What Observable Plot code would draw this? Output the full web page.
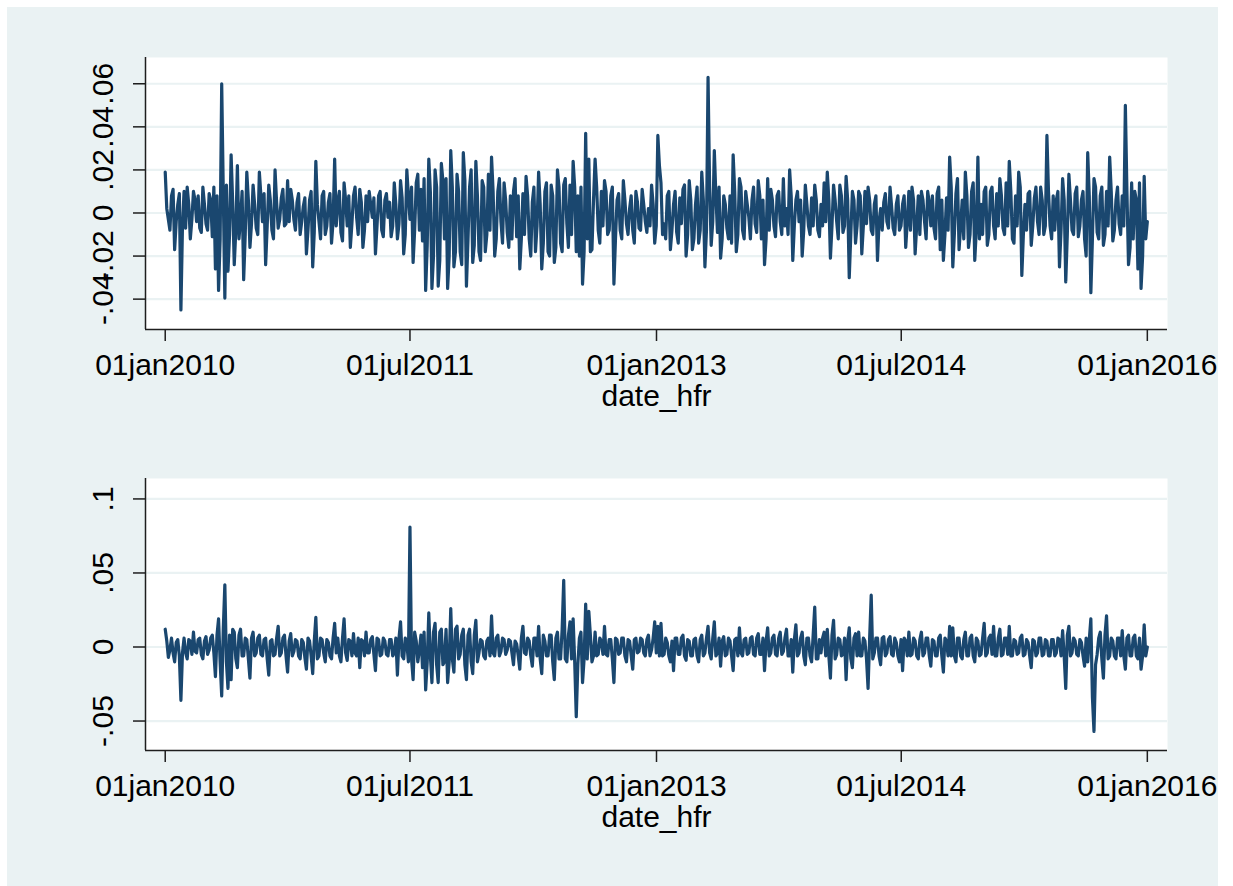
<!DOCTYPE html>
<html>
<head>
<meta charset="utf-8">
<script src="https://cdn.jsdelivr.net/npm/d3@7"></script>
<script src="https://cdn.jsdelivr.net/npm/@observablehq/plot@0.6"></script>
<style>
html, body { margin: 0; padding: 0; background: #ffffff; }
#page { position: relative; width: 1233px; height: 886px; overflow: hidden; background: #ffffff; }
#bg { position: absolute; left: 7px; top: 7px; width: 1211px; height: 879px; background: #EAF2F3; }
.panel { position: absolute; left: 0; }
</style>
</head>
<body>
<div id="page">
  <div id="bg"></div>
  <div id="top" class="panel" style="top:0px"></div>
  <div id="bottom" class="panel" style="top:421px"></div>
</div>
<script>
// ---- data: readings every week starting 01jan2010, plus mid-week readings ----
const startDate = "2010-01-01";
const stepHours = 168;      // one week between weekly readings
const midOffsetHours = 84;  // mid-week readings

const topValues = [
  0.019,-0.003,0.008,-0.017,0.004,-0.045,0.010,0.012,-0.012,0.010,
  -0.004,-0.007,0.012,-0.005,0.009,-0.011,-0.026,-0.036,0.060,-0.0395,
  -0.027,0.027,-0.024,0.022,-0.003,-0.031,0.019,-0.016,0.013,-0.007,
  0.019,-0.004,-0.024,0.013,-0.008,0.020,-0.007,0.007,-0.006,0.015,
  0.011,-0.003,0.005,-0.010,0.003,-0.019,0.006,-0.025,0.024,-0.004,
  0.008,-0.010,0.005,-0.014,0.025,0.005,-0.009,0.014,-0.006,-0.016,
  0.008,-0.002,0.011,-0.016,0.008,0.010,-0.002,-0.019,0.008,-0.008,
  0.006,-0.002,-0.011,0.014,-0.012,0.015,-0.019,0.020,-0.003,-0.023,
  0.014,-0.008,-0.013,-0.036,0.025,-0.035,0.020,-0.034,0.023,-0.012,
  -0.035,0.029,-0.025,0.018,-0.018,0.028,-0.034,0.012,-0.023,0.024,
  -0.018,0.015,-0.018,0.018,0.026,-0.020,0.010,-0.004,0.014,-0.009,
  0.008,0.010,-0.011,-0.026,0.009,0.017,-0.012,0.005,-0.018,0.019,
  -0.026,0.010,-0.018,0.013,-0.023,0.020,-0.014,0.013,-0.005,0.013,
  0.024,-0.018,-0.020,-0.033,0.037,0.025,-0.017,0.025,-0.008,0.010,
  0.015,-0.010,0.008,-0.033,0.006,-0.008,0.015,-0.005,0.002,-0.008,
  0.010,-0.007,0.011,-0.004,0.002,0.013,-0.014,0.036,0.014,-0.005,
  0.008,-0.017,0.004,-0.009,0.007,0.011,-0.020,0.015,-0.017,0.004,
  -0.014,0.019,-0.025,0.063,-0.015,0.029,-0.009,-0.021,0.008,-0.007,
  0.008,0.027,-0.018,0.016,-0.008,0.010,-0.002,0.006,-0.005,0.015,
  -0.012,-0.024,0.016,0.011,-0.006,0.008,-0.004,0.016,0.002,0.020,
  -0.022,0.006,-0.004,-0.020,0.013,-0.006,0.007,0.013,-0.008,0.004,
  0.014,0.019,-0.021,0.013,-0.004,0.013,-0.009,0.017,-0.030,0.010,
  -0.014,0.010,-0.019,0.010,0.012,-0.008,0.004,-0.022,0.002,0.005,
  -0.004,0.012,-0.007,0.004,-0.008,0.004,-0.016,0.010,0.012,-0.019,
  0.008,0.010,-0.004,0.010,-0.006,-0.007,0.009,-0.017,-0.022,0.007,
  0.026,-0.025,0.009,-0.017,0.006,0.019,-0.016,0.010,-0.022,0.026,
  0.004,0.010,-0.015,0.010,-0.006,0.009,0.016,-0.007,0.014,0.024,
  -0.012,0.008,0.019,-0.029,0.004,0.009,-0.015,0.007,-0.004,0.012,
  -0.010,0.036,-0.006,0.008,0.006,-0.025,0.016,-0.032,0.018,-0.008,
  0.009,-0.011,0.006,-0.012,0.028,-0.037,0.016,-0.009,0.008,-0.015,
  0.010,0.026,-0.013,0.006,-0.005,0.008,0.050,-0.024,0.014,0.010,
  -0.026,-0.035,0.017,-0.004
];

const topMidValues = [
  0.002,-0.008,0.011,-0.004,0.009,-0.006,-0.007,0.004,-0.003,0.006,
  0.008,-0.009,0.004,-0.008,0.006,0.012,0.008,-0.012,0.010,0.013,
  -0.010,0.005,-0.008,-0.012,0.010,-0.010,0.006,-0.005,0.004,-0.010,
  0.008,0.009,-0.006,0.006,-0.012,0.005,-0.003,0.011,-0.005,-0.004,
  0.006,-0.008,0.009,-0.004,0.007,-0.008,0.010,-0.009,0.004,-0.012,
  0.010,-0.006,0.009,-0.004,-0.006,0.010,-0.013,0.006,0.008,-0.005,
  0.012,-0.010,0.005,-0.008,-0.004,0.004,0.007,-0.006,0.010,-0.011,
  0.009,0.005,-0.006,0.004,-0.005,0.007,-0.010,0.008,0.012,-0.008,
  0.018,0.011,0.016,-0.015,0.010,-0.020,0.012,-0.022,0.015,0.016,
  -0.020,0.012,-0.018,0.010,-0.024,0.015,-0.012,0.020,-0.015,0.008,
  -0.022,0.012,-0.010,-0.008,0.010,-0.012,0.016,-0.014,0.006,-0.016,
  -0.012,0.016,0.008,-0.012,-0.010,0.008,-0.020,0.012,-0.006,0.004,
  -0.014,0.014,-0.020,0.008,-0.016,0.012,-0.018,0.016,-0.016,-0.010,
  0.012,0.008,0.012,-0.018,-0.012,-0.018,0.006,0.012,-0.014,-0.006,
  0.010,-0.008,0.012,-0.012,0.009,-0.012,0.006,-0.010,0.008,-0.014,
  0.005,-0.008,0.004,-0.009,-0.006,0.004,-0.006,0.022,-0.010,-0.012,
  0.010,-0.008,0.010,-0.014,-0.005,0.013,-0.010,0.006,-0.012,0.012,
  -0.008,0.006,-0.008,0.012,-0.004,0.008,0.012,-0.012,0.004,-0.012,
  -0.014,0.010,-0.010,0.012,-0.012,0.004,-0.012,0.012,-0.009,0.008,
  0.006,-0.012,-0.008,0.006,-0.011,0.010,-0.010,-0.006,-0.010,0.008,
  -0.006,0.010,0.006,-0.008,0.004,-0.010,-0.006,0.006,-0.011,-0.006,
  -0.004,0.006,-0.006,0.006,-0.012,0.008,-0.006,0.006,-0.010,0.006,
  -0.006,0.008,-0.006,-0.005,0.006,-0.010,0.008,-0.004,-0.008,0.009,
  -0.007,0.003,-0.010,0.008,-0.006,0.008,-0.004,-0.008,0.006,-0.006,
  -0.010,0.006,-0.012,0.005,0.008,-0.012,0.012,0.006,-0.010,-0.008,
  0.012,-0.010,0.016,-0.006,-0.012,0.008,-0.010,0.014,-0.008,-0.012,
  -0.010,0.012,-0.010,0.012,-0.012,-0.006,0.008,-0.010,-0.006,0.010,
  -0.014,-0.006,0.012,-0.010,-0.008,0.010,-0.006,0.012,-0.010,0.006,
  -0.006,0.010,-0.012,-0.008,0.010,-0.008,0.006,-0.010,0.006,-0.010,
  0.012,-0.006,0.010,-0.020,0.008,-0.012,0.012,-0.012,0.012,-0.010,
  -0.006,0.010,-0.008,0.012,-0.010,-0.006,0.010,-0.016,-0.012,0.006,
  0.014,-0.020,-0.012
];

const bottomValues = [
  0.012,-0.007,0.006,-0.010,0.005,-0.036,0.006,-0.008,0.004,0.010,
  -0.004,0.006,-0.008,0.007,-0.002,0.008,-0.020,0.019,-0.033,0.042,
  -0.028,-0.022,0.010,-0.014,0.012,-0.006,0.005,-0.021,0.010,-0.004,
  0.008,-0.006,0.006,-0.019,0.005,-0.005,0.014,-0.004,0.008,-0.017,
  0.009,-0.003,0.004,-0.008,0.003,-0.015,0.004,-0.018,0.020,-0.006,
  0.005,-0.010,0.003,-0.008,0.016,0.006,-0.010,0.019,-0.009,0.004,
  0.009,-0.006,-0.014,0.004,0.010,-0.004,0.007,-0.016,0.005,-0.005,
  0.004,-0.006,0.005,-0.004,-0.019,0.017,-0.008,0.003,0.081,-0.022,
  0.004,-0.002,-0.014,-0.029,0.023,-0.024,0.016,-0.024,0.012,-0.010,
  -0.024,0.026,-0.017,0.014,-0.005,0.012,-0.022,0.012,-0.018,0.018,
  -0.004,0.004,-0.008,0.006,0.021,-0.006,0.008,-0.003,0.005,-0.002,
  0.004,-0.012,0.002,-0.015,0.014,-0.005,0.004,-0.013,0.006,0.014,
  -0.018,0.004,-0.006,0.008,-0.022,0.010,-0.008,0.045,-0.010,0.017,
  0.019,-0.047,0.006,-0.024,0.029,0.024,-0.010,0.010,-0.005,0.004,
  0.014,-0.006,0.005,-0.024,0.005,-0.004,0.006,-0.010,0.004,-0.015,
  0.006,-0.003,0.005,-0.006,0.008,-0.002,0.017,0.014,0.016,-0.005,
  0.003,-0.010,-0.016,0.006,-0.005,0.008,-0.009,0.004,-0.006,0.006,
  -0.010,0.008,-0.004,0.014,-0.008,0.017,-0.004,-0.013,0.007,-0.005,
  0.004,-0.016,0.006,0.013,-0.006,0.006,-0.004,0.007,-0.006,0.009,
  -0.005,-0.016,0.013,-0.004,0.008,-0.006,0.010,-0.003,0.012,-0.006,
  -0.017,0.015,-0.004,0.010,-0.012,0.006,-0.010,0.027,-0.008,-0.004,
  0.010,0.012,-0.021,0.018,-0.005,0.005,-0.005,-0.022,0.013,-0.014,
  0.009,0.010,-0.006,0.004,-0.028,0.035,-0.004,0.006,-0.012,0.007,
  -0.004,0.007,-0.006,0.003,-0.010,-0.016,0.004,0.010,-0.005,0.004,
  -0.008,0.010,-0.004,0.006,-0.013,0.004,-0.006,0.008,-0.017,0.004,
  0.014,0.013,-0.010,0.006,-0.008,0.010,-0.006,0.008,-0.010,0.004,
  -0.005,0.016,-0.004,0.008,0.014,-0.006,0.012,-0.005,0.006,0.014,
  -0.006,0.004,-0.004,0.008,-0.005,0.003,-0.014,0.004,-0.004,0.006,
  -0.005,0.004,-0.006,0.005,-0.004,0.005,0.011,-0.028,0.014,-0.004,
  0.004,-0.006,0.003,-0.013,-0.010,0.019,-0.057,-0.005,0.010,-0.021,
  0.021,-0.006,0.004,-0.008,0.006,0.011,-0.015,0.008,-0.006,0.008,
  -0.008,-0.015,0.015,0.000
];

const bottomMidValues = [
  0.004,-0.002,-0.004,0.003,-0.006,-0.004,-0.004,0.005,-0.005,-0.003,
  0.005,-0.005,0.004,-0.005,0.006,-0.004,0.008,-0.010,0.012,-0.010,
  0.008,0.012,-0.008,0.008,-0.006,0.006,-0.008,0.006,-0.006,0.006,
  -0.005,0.005,-0.008,0.004,-0.006,0.006,-0.006,0.006,-0.006,0.004,
  -0.006,0.005,-0.006,0.005,-0.007,0.006,-0.006,0.004,-0.008,0.006,
  -0.004,0.005,-0.006,0.006,-0.004,-0.006,0.006,-0.004,0.005,-0.006,
  -0.004,0.006,0.005,-0.006,-0.004,0.005,-0.005,0.006,-0.006,0.006,
  -0.005,0.005,-0.006,0.006,0.006,-0.006,0.006,-0.010,-0.008,0.010,
  -0.010,0.008,0.010,-0.010,-0.006,0.010,-0.012,0.010,-0.012,0.012,
  -0.010,-0.008,0.012,-0.008,0.008,-0.012,0.008,-0.010,0.008,-0.010,
  0.005,-0.006,0.004,-0.006,-0.004,0.006,-0.006,0.006,-0.005,0.005,
  -0.004,0.004,-0.006,0.006,-0.004,0.006,-0.006,0.006,-0.006,-0.008,
  0.008,-0.006,0.008,-0.010,0.006,-0.008,0.012,-0.008,0.008,-0.008,
  -0.010,-0.012,0.010,-0.008,-0.008,0.008,-0.006,-0.006,0.006,-0.005,
  -0.005,0.005,-0.008,0.006,-0.005,0.006,-0.006,0.005,-0.006,0.005,
  -0.004,0.006,-0.004,0.005,-0.006,0.006,-0.004,-0.006,-0.006,0.006,
  -0.006,0.004,0.006,-0.005,0.006,-0.006,0.005,-0.006,0.005,-0.006,
  0.005,-0.006,0.006,-0.004,0.006,-0.006,0.006,0.004,-0.006,0.006,
  -0.006,0.005,-0.006,-0.004,0.005,-0.005,0.006,-0.005,0.006,-0.005,
  0.006,0.004,-0.006,0.006,-0.005,0.006,-0.005,0.006,-0.006,0.005,
  0.005,-0.006,0.006,-0.006,0.006,-0.006,0.008,-0.008,0.005,0.006,
  -0.006,-0.006,0.008,-0.008,0.006,-0.006,0.006,0.004,-0.008,0.006,
  -0.006,-0.006,0.006,-0.008,0.006,-0.008,0.006,-0.006,0.006,-0.006,
  0.005,-0.005,0.006,-0.006,0.005,0.006,-0.006,-0.006,0.006,-0.006,
  0.005,-0.006,0.006,-0.006,0.005,-0.006,0.006,-0.006,0.006,-0.006,
  -0.006,-0.006,0.006,-0.006,0.005,-0.006,0.006,-0.006,0.006,-0.006,
  0.006,-0.006,0.006,-0.005,-0.006,0.006,-0.006,0.006,-0.005,-0.006,
  0.005,-0.005,0.006,-0.006,0.005,-0.006,0.005,-0.006,0.006,-0.006,
  0.005,-0.006,0.005,-0.006,0.006,-0.006,-0.006,0.008,-0.006,0.006,
  -0.005,0.005,-0.006,0.006,0.005,-0.034,-0.012,0.006,-0.008,0.008,
  -0.008,0.006,-0.006,0.006,-0.006,-0.006,0.006,-0.006,0.006,-0.006,
  0.006,-0.006,-0.006
];

// ---- axes ----
const xTickDates = ["2010-01-01", "2011-07-01", "2013-01-01", "2014-07-01", "2016-01-01"];
const xTickLabels = ["01jan2010", "01jul2011", "01jan2013", "01jul2014", "01jan2016"];
const xTitle = "date_hfr";

const topYTicks = [-0.04, -0.02, 0, 0.02, 0.04, 0.06];
const topYLabels = ["-.04", "-.02", "0", ".02", ".04", ".06"];
const bottomYTicks = [-0.05, 0, 0.05, 0.1];
const bottomYLabels = ["-.05", "0", ".05", ".1"];

// ---- layout ----
const xDomain = [new Date("2009-11-18"), new Date("2016-02-15")];
const topYDomain = [-0.0541, 0.0722];
const bottomYDomain = [-0.0699, 0.1138];
const navy = "#1A476F";
const bgColor = "#EAF2F3";
const axisColor = "#1e1e1e";
const font = "'Liberation Sans', Arial, Helvetica, sans-serif";

const start = new Date(startDate);
const xTicks = xTickDates.map(d => new Date(d));

function buildSeries(weekly, mid) {
  const rows = [];
  weekly.forEach((v, i) => {
    rows.push({date: d3.utcHour.offset(start, i * stepHours), value: v});
    if (i < mid.length) rows.push({date: d3.utcHour.offset(start, i * stepHours + midOffsetHours), value: mid[i]});
  });
  return rows;
}

function makePanel(data, yDomain, yTicks, yLabels, height, marginBottom) {
  const yLab = new Map(yTicks.map((t, i) => [t, yLabels[i]]));
  const xLab = new Map(xTicks.map((t, i) => [+t, xTickLabels[i]]));
  return Plot.plot({
    width: 1233,
    height,
    marginLeft: 145,
    marginRight: 66,
    marginTop: 57,
    marginBottom,
    style: {background: "transparent", fontFamily: font, fontSize: "30px", color: "#000", overflow: "visible"},
    x: {type: "utc", domain: xDomain},
    y: {domain: yDomain},
    marks: [
      Plot.frame({fill: "white", stroke: "none"}),
      Plot.gridY(yTicks, {stroke: bgColor, strokeOpacity: 1, strokeWidth: 2.2}),
      Plot.lineY(data, {x: "date", y: "value", stroke: navy, strokeWidth: 3.2, strokeLinejoin: "round", strokeLinecap: "round"}),
      Plot.ruleX([xDomain[0]], {stroke: axisColor, strokeWidth: 1.5}),
      Plot.ruleY([yDomain[0]], {stroke: axisColor, strokeWidth: 1.5}),
      Plot.axisY(yTicks, {
        tickSize: 12, tickPadding: 21, tickRotate: -90,
        tickFormat: d => yLab.get(d), fontSize: 30,
        stroke: axisColor, strokeWidth: 1.5, label: null
      }),
      Plot.axisX(xTicks, {
        tickSize: 12, tickPadding: 12,
        tickFormat: d => xLab.get(+d), fontSize: 30,
        stroke: axisColor, strokeWidth: 1.5, label: null
      }),
      Plot.text([xTitle], {frameAnchor: "bottom", dy: 76, lineAnchor: "bottom", fontSize: 30, fill: "#000"})
    ]
  });
}

document.getElementById("top").appendChild(
  makePanel(buildSeries(topValues, topMidValues), topYDomain, topYTicks, topYLabels, 421, 92)
);
document.getElementById("bottom").appendChild(
  makePanel(buildSeries(bottomValues, bottomMidValues), bottomYDomain, bottomYTicks, bottomYLabels, 465, 136)
);
</script>
</body>
</html>
